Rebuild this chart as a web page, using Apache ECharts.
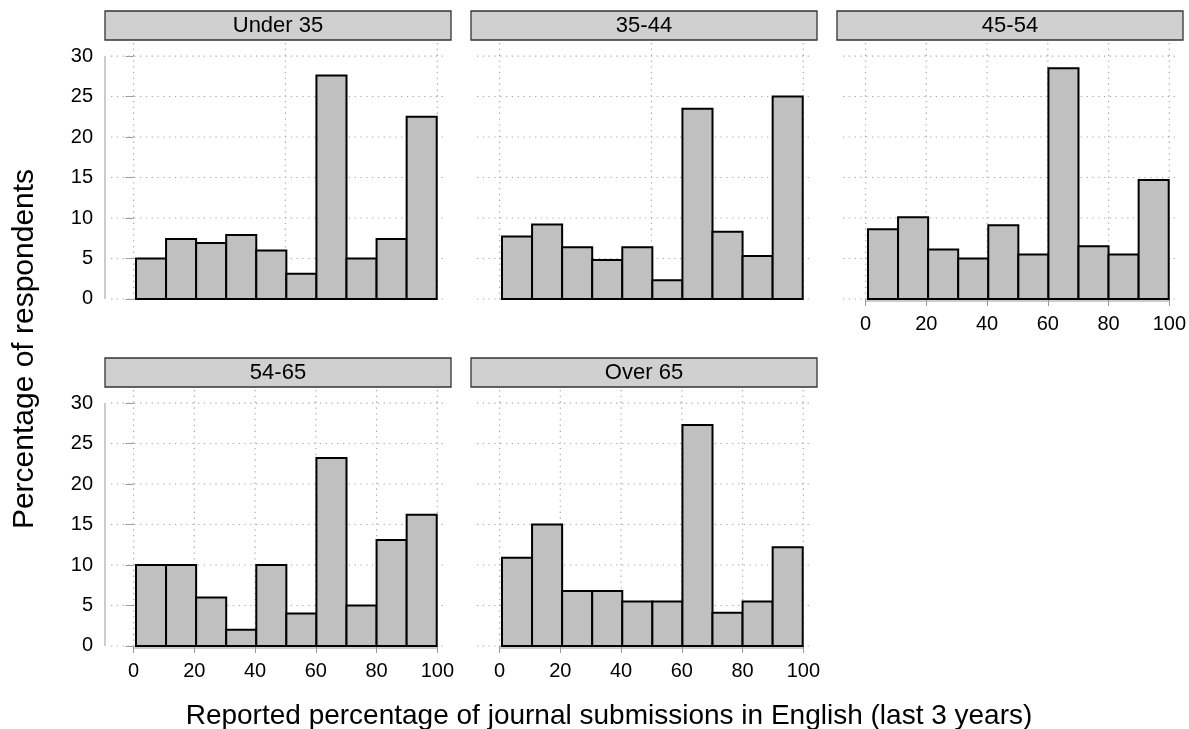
<!DOCTYPE html>
<html><head><meta charset="utf-8">
<script src="https://cdn.jsdelivr.net/npm/echarts@6/dist/echarts.min.js"></script>
<style>html,body{margin:0;padding:0;background:#fff}#c{width:1189px;height:729px}</style>
</head><body><div id="c"></div>
<script>
// ---- data ----
const panelNames = ['Under 35', '35-44', '45-54', '54-65', 'Over 65'];
const breaks = [0.8, 10.7, 20.6, 30.5, 40.4, 50.3, 60.2, 70.1, 80.0, 89.9, 99.8];
const under35 = [5.0, 7.4, 6.9, 7.9, 6.0, 3.1, 27.6, 5.0, 7.4, 22.5];
const age35to44 = [7.7, 9.2, 6.4, 4.8, 6.4, 2.3, 23.5, 8.3, 5.3, 25.0];
const age45to54 = [8.6, 10.1, 6.1, 5.0, 9.1, 5.5, 28.5, 6.5, 5.5, 14.7];
const age54to65 = [10.0, 10.0, 6.0, 2.0, 10.0, 4.0, 23.2, 5.0, 13.1, 16.2];
const over65 = [10.9, 15.0, 6.8, 6.8, 5.5, 5.5, 27.3, 4.1, 5.5, 12.2];
const yTicks = [0, 5, 10, 15, 20, 25, 30];
const xTicks = [0, 20, 40, 60, 80, 100];
const vGridWide = [0, 50, 100];
const vGridFine = [0, 20, 40, 60, 80, 100];
const xTitle = 'Reported percentage of journal submissions in English (last 3 years)';
const yTitle = 'Percentage of respondents';

// ---- layout ----
const FONT = 'Liberation Sans, Arial, sans-serif';
const seriesValues = [under35, age35to44, age45to54, age54to65, over65];
const panels = [
  {left: 105, top: 40, showY: true, showX: false, vgrid: vGridWide},
  {left: 471, top: 40, showY: false, showX: false, vgrid: vGridWide},
  {left: 837, top: 40, showY: false, showX: true, vgrid: vGridFine},
  {left: 105, top: 387, showY: true, showX: true, vgrid: vGridFine},
  {left: 471, top: 387, showY: false, showX: true, vgrid: vGridFine}
];
const GW = 346, GH = 261, STRIP = 29;
const XMIN = -9.4, XMAX = 104.5, YMIN = -0.25, YMAX = 31.98;

const grids = [], xAxes = [], yAxes = [], series = [], graphics = [];
panels.forEach((p, i) => {
  grids.push({left: p.left, top: p.top, width: GW, height: GH, containLabel: false});
  xAxes.push({
    type: 'value', gridIndex: i, min: XMIN, max: XMAX,
    axisLine: {show: false}, splitLine: {show: false},
    axisTick: {show: p.showX, customValues: xTicks, length: 7, lineStyle: {color: '#999', width: 1}},
    axisLabel: {show: p.showX, customValues: xTicks, fontSize: 20, color: '#000', margin: 13, fontFamily: FONT}
  });
  yAxes.push({
    type: 'value', gridIndex: i, min: YMIN, max: YMAX,
    axisLine: {show: false}, splitLine: {show: false},
    axisTick: {show: p.showY, customValues: yTicks, length: 8, lineStyle: {color: '#999', width: 1}},
    axisLabel: {show: p.showY, customValues: yTicks, fontSize: 20, color: '#000', margin: 12, fontFamily: FONT}
  });
  // dotted reference grid
  const gl = yTicks.map(v => [0, v]).concat(p.vgrid.map(v => [1, v]));
  series.push({
    type: 'custom', xAxisIndex: i, yAxisIndex: i, z: 1, silent: true,
    data: gl, encode: {x: -1, y: -1},
    renderItem: (params, api) => {
      const cs = params.coordSys;
      const kind = api.value(0), v = api.value(1);
      let shape;
      if (kind === 0) {
        const y = api.coord([0, v])[1];
        shape = {x1: cs.x + 6, y1: y, x2: cs.x + cs.width - 6, y2: y};
      } else {
        const x = api.coord([v, 0])[0];
        shape = {x1: x, y1: cs.y + 3, x2: x, y2: cs.y + cs.height};
      }
      return {type: 'line', shape, style: {stroke: '#aaaaaa', lineWidth: 1.2, lineDash: [1.3, 4.5]}};
    }
  });
  // histogram bars
  series.push({
    type: 'custom', xAxisIndex: i, yAxisIndex: i, z: 3, silent: true,
    data: seriesValues[i].map((v, k) => [breaks[k], breaks[k + 1], v]),
    encode: {x: [0, 1], y: 2},
    renderItem: (params, api) => {
      const a = api.coord([api.value(0), api.value(2)]);
      const b = api.coord([api.value(1), 0]);
      return {type: 'rect', shape: {x: a[0], y: a[1], width: b[0] - a[0], height: b[1] - a[1]},
        style: {fill: '#c0c0c0', stroke: '#000', lineWidth: 2}};
    }
  });
  // axis lines (limited extent, lattice style)
  const al = [];
  if (p.showX) al.push([0, xTicks[0], xTicks[xTicks.length - 1]]);
  if (p.showY) al.push([1, yTicks[0], yTicks[yTicks.length - 1]]);
  if (al.length) series.push({
    type: 'custom', xAxisIndex: i, yAxisIndex: i, z: 2, silent: true,
    data: al, encode: {x: -1, y: -1},
    renderItem: (params, api) => {
      const kind = api.value(0), a = api.value(1), b = api.value(2);
      let p1, p2;
      if (kind === 0) { p1 = api.coord([a, YMIN]); p2 = api.coord([b, YMIN]); }
      else { p1 = api.coord([XMIN, a]); p2 = api.coord([XMIN, b]); }
      return {type: 'line', shape: {x1: p1[0], y1: p1[1], x2: p2[0], y2: p2[1]},
        style: {stroke: '#999', lineWidth: 1}};
    }
  });
  // strip
  graphics.push({type: 'rect', shape: {x: p.left, y: p.top - STRIP, width: GW, height: STRIP},
    style: {fill: '#d0d0d0', stroke: '#333', lineWidth: 1.3}});
  graphics.push({type: 'text', x: p.left + GW / 2, y: p.top - STRIP / 2,
    style: {text: panelNames[i], align: 'center', verticalAlign: 'middle', font: '22px ' + FONT, fill: '#000'}});
});
graphics.push({type: 'text', x: 609, y: 716,
  style: {text: xTitle, align: 'center', verticalAlign: 'middle', font: '28px ' + FONT, fill: '#000'}});
graphics.push({type: 'text', x: 25, y: 349, rotation: Math.PI / 2,
  style: {text: yTitle, align: 'center', verticalAlign: 'middle', font: '30px ' + FONT, fill: '#000'}});

const chart = echarts.init(document.getElementById('c'), null, {renderer: 'canvas'});
chart.setOption({
  animation: false,
  backgroundColor: '#fff',
  grid: grids, xAxis: xAxes, yAxis: yAxes, series: series, graphic: graphics
});
</script></body></html>
